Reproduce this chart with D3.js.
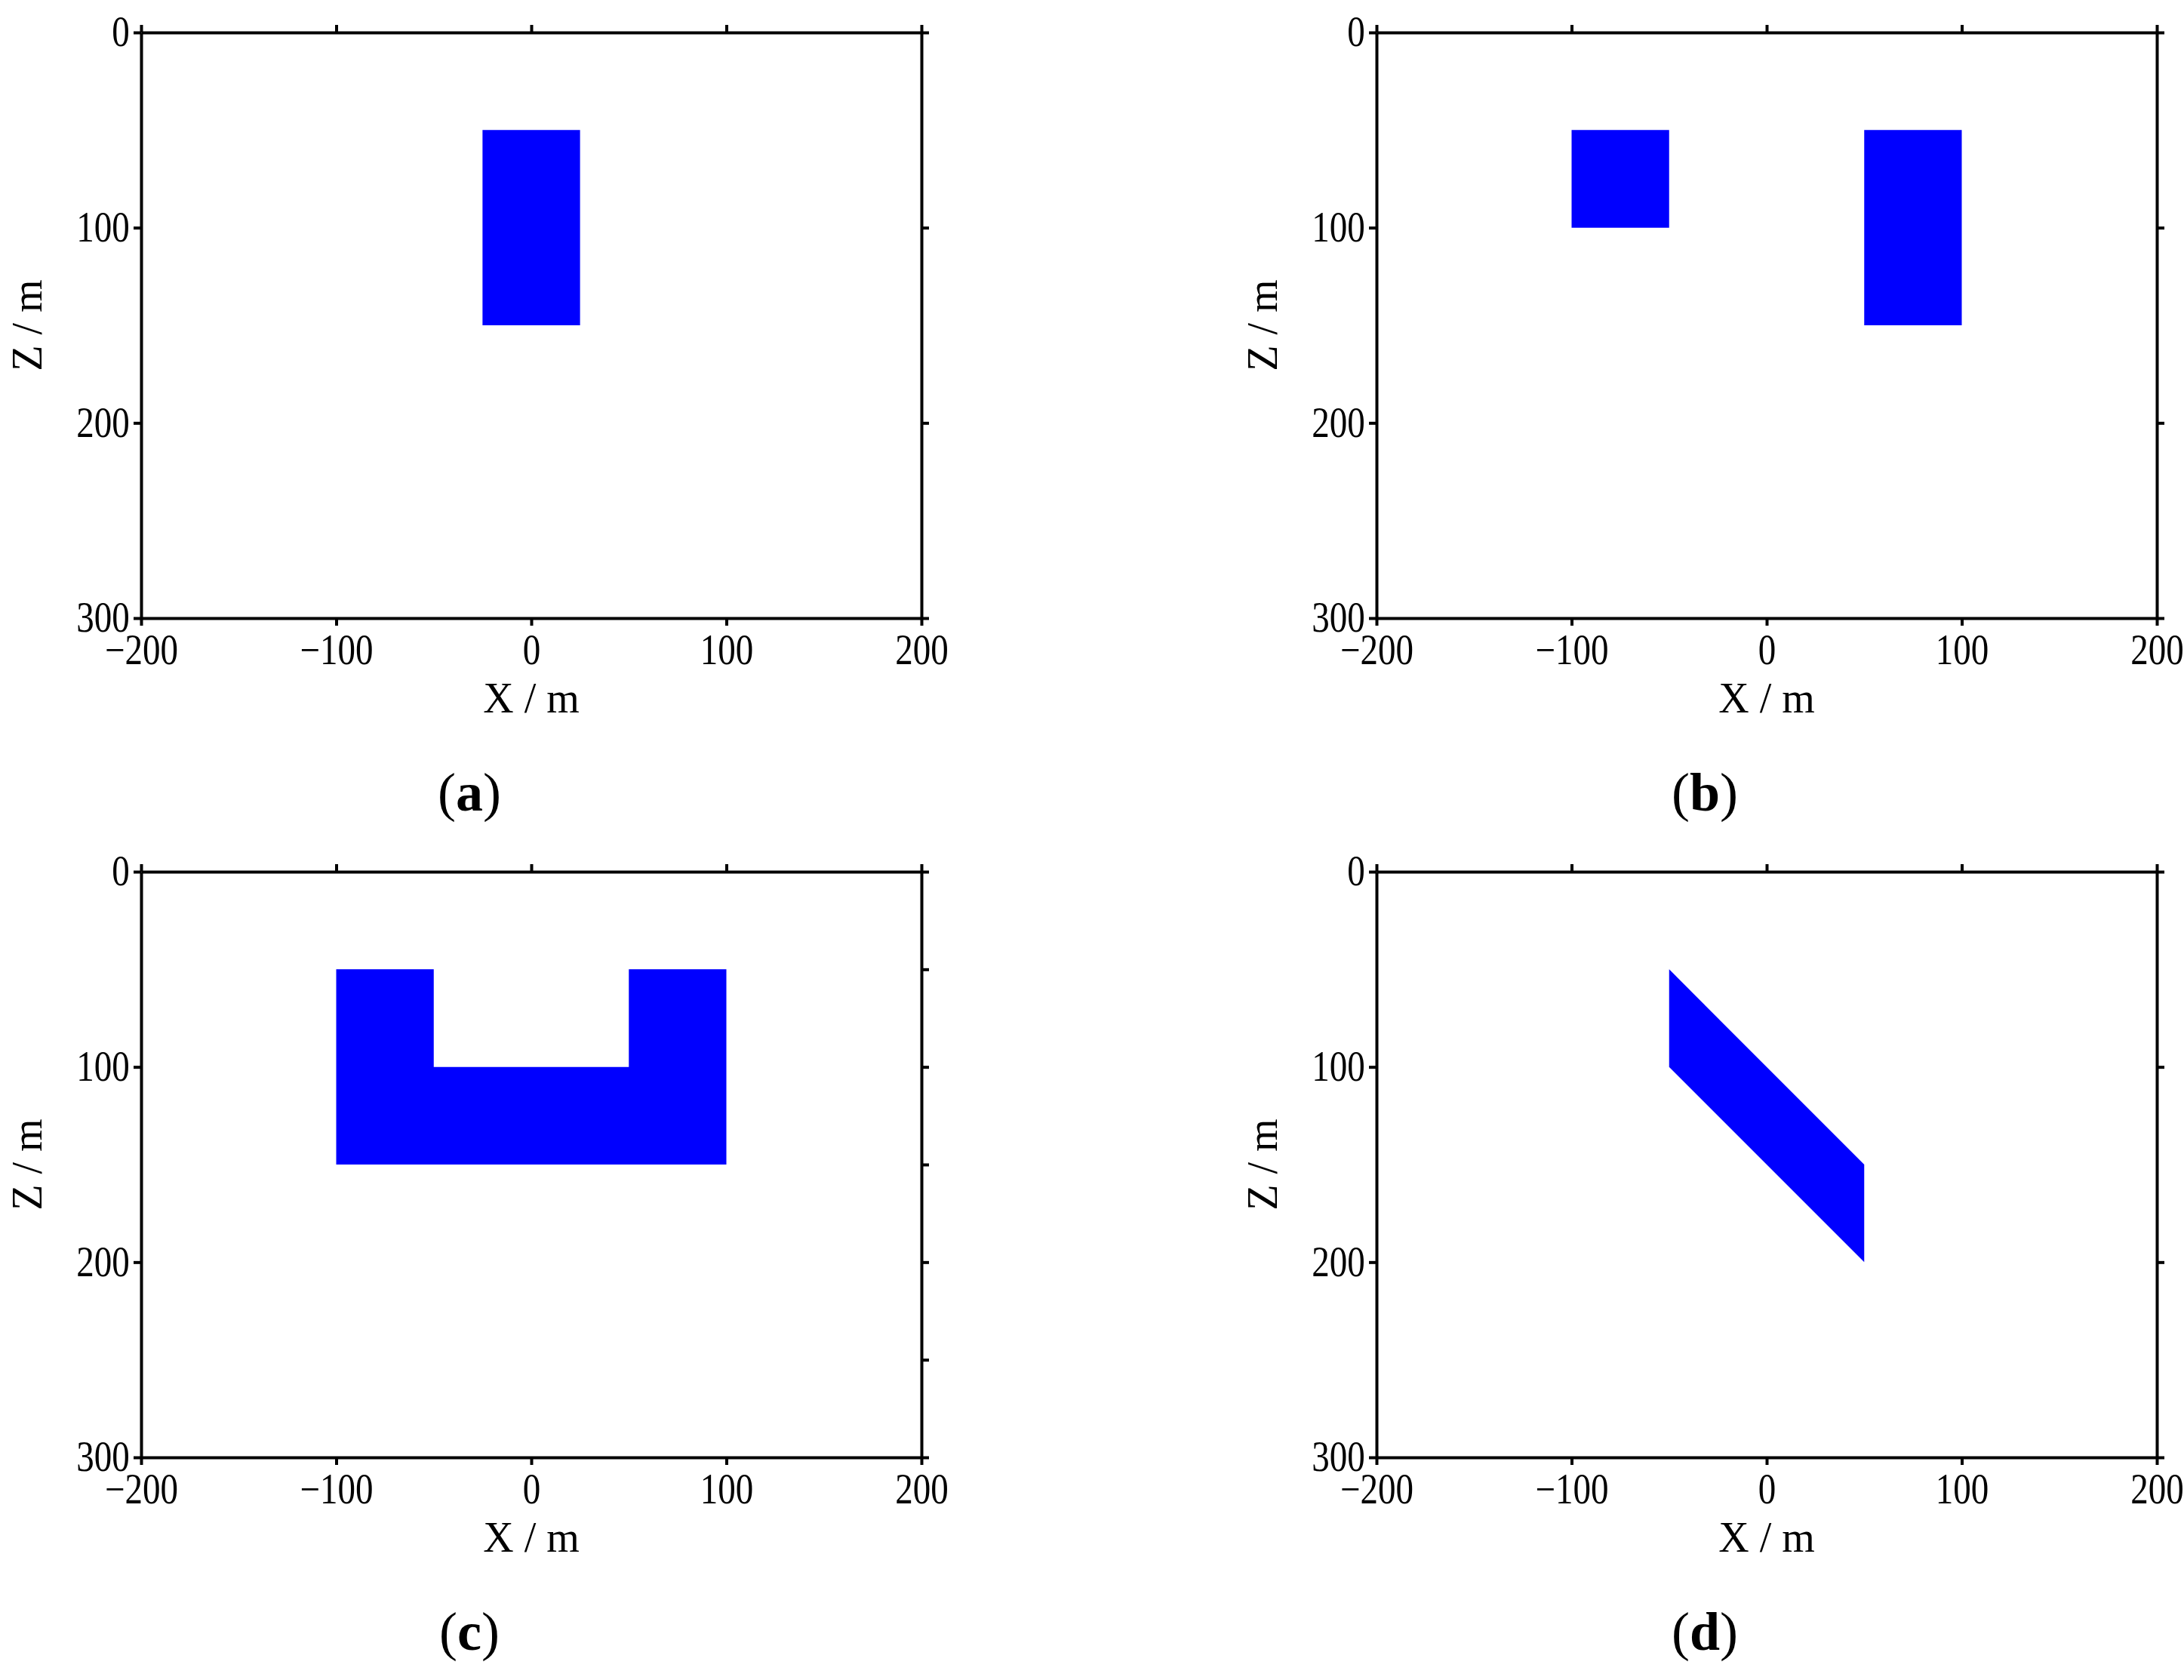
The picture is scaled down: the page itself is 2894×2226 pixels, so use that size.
<!DOCTYPE html>
<html><head><meta charset="utf-8">
<script src="https://cdn.jsdelivr.net/npm/d3@7"></script>
<style>body{margin:0;background:#fff}</style>
</head><body>
<script>
const xTicks = [-200, -100, 0, 100, 200];
const zTicks = [0, 100, 200, 300];
const panelLabels = ["a", "b", "c", "d"];
// polygons in data coords (x, z)
const shapesA = [[[-25,50],[25,50],[25,150],[-25,150]]];
const shapesB = [[[-100,50],[-50,50],[-50,100],[-100,100]], [[50,50],[100,50],[100,150],[50,150]]];
const shapesC = [[[-100,50],[-50,50],[-50,100],[50,100],[50,50],[100,50],[100,150],[-100,150]]];
const shapesD = [[[-50,50],[50,150],[50,200],[-50,100]]];
const allShapes = [shapesA, shapesB, shapesC, shapesD];
const minorRightC = [50, 150, 250];

const W = 2894, H = 2226;
const svg = d3.select("body").append("svg").attr("width", W).attr("height", H);
const font = "Liberation Serif, Times New Roman, serif";
const origins = [[187, 43], [1824, 43], [187, 1155], [1824, 1155]];
const pw = 1034, ph = 776;

origins.forEach(([ox, oy], i) => {
  const g = svg.append("g").attr("transform", `translate(${ox},${oy})`);
  const x = d3.scaleLinear().domain([-200, 200]).range([0, pw]);
  const z = d3.scaleLinear().domain([0, 300]).range([0, ph]);
  const line = d3.line().x(d => x(d[0])).y(d => z(d[1]));
  allShapes[i].forEach(p => g.append("path").attr("d", line(p) + "Z").attr("fill", "#0000ff"));

  const style = (sel, labels) => {
    sel.selectAll("path.domain").attr("stroke-width", 4).attr("stroke", "#000");
    sel.selectAll(".tick line").attr("stroke-width", 4).attr("stroke", "#000");
    sel.selectAll("text").attr("font-family", font).attr("font-size", 56).attr("fill", "#000")
      .attr("transform", "scale(0.84,1)");
    if (!labels) sel.selectAll("text").remove();
  };
  g.append("g").attr("transform", `translate(0,${ph})`)
    .call(d3.axisBottom(x).tickValues(xTicks).tickSize(10).tickSizeOuter(0).tickPadding(11).tickFormat(d => d < 0 ? "\u2212" + (-d) : d))
    .call(s => style(s, true));
  g.append("g").call(d3.axisTop(x).tickValues(xTicks).tickSize(10).tickSizeOuter(0).tickFormat(""))
    .call(s => style(s, false));
  g.append("g").call(d3.axisLeft(z).tickValues(zTicks).tickSize(10).tickSizeOuter(0).tickPadding(8))
    .call(s => style(s, true));
  g.append("g").attr("transform", `translate(${pw},0)`)
    .call(d3.axisRight(z).tickValues(i === 2 ? zTicks.concat(minorRightC) : zTicks).tickSize(10).tickSizeOuter(0).tickFormat(""))
    .call(s => style(s, false));

  g.append("text").attr("x", pw / 2).attr("y", ph + 125).attr("text-anchor", "middle")
    .attr("font-family", font).attr("font-size", 56).text("X / m");
  g.append("text").attr("transform", `translate(${-132},${ph / 2}) rotate(-90)`).attr("text-anchor", "middle")
    .attr("font-family", font).attr("font-size", 56).text("Z / m");
  const cap = g.append("text").attr("x", 435).attr("y", ph + 255).attr("text-anchor", "middle")
    .attr("font-family", font).attr("font-size", 72);
  cap.append("tspan").text("(");
  cap.append("tspan").attr("font-weight", "bold").text(panelLabels[i]);
  cap.append("tspan").text(")");
});
</script>
</body></html>
